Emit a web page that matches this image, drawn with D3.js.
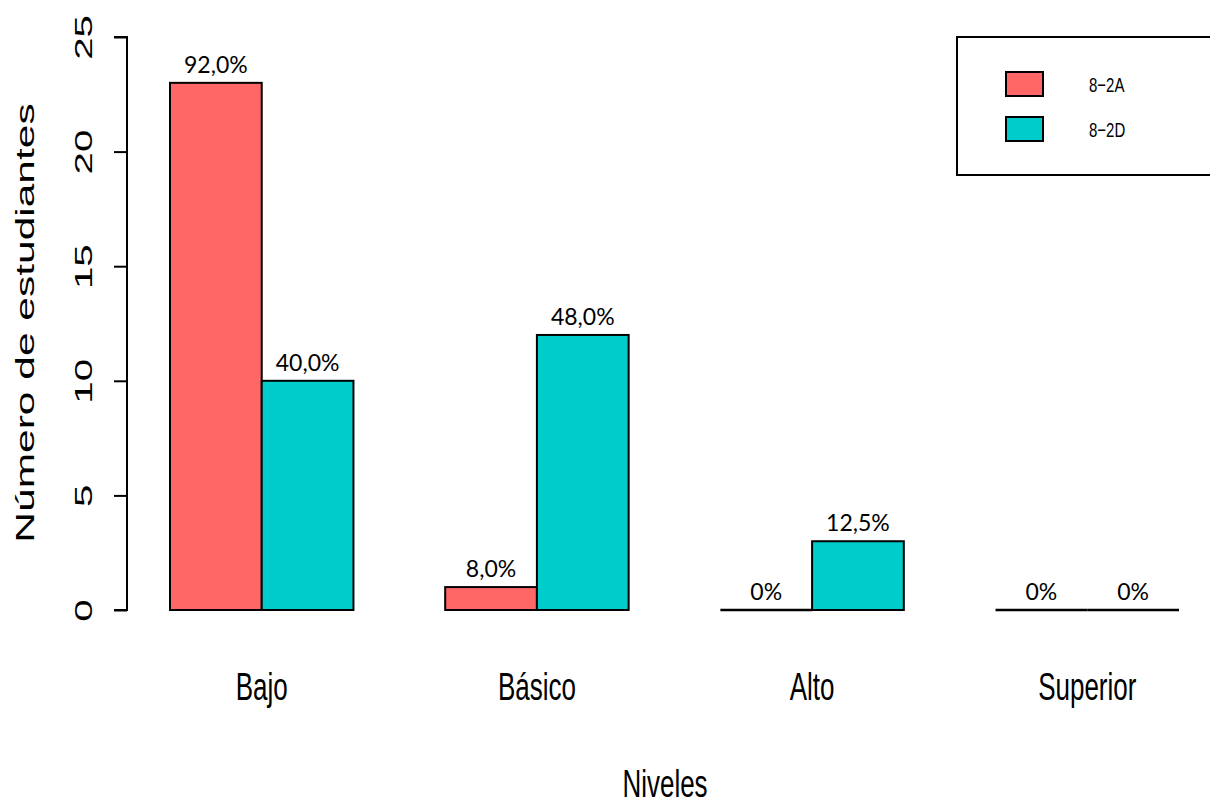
<!DOCTYPE html>
<html>
<head>
<meta charset="utf-8">
<script src="https://cdn.jsdelivr.net/npm/d3@7"></script>
<style>
  body { margin: 0; background: #fff; }
  svg { display: block; }
</style>
</head>
<body>
<div id="chart-area"></div>
<script>
// data
var niveles = ["Bajo", "Básico", "Alto", "Superior"];
var grupos = ["8-2A", "8-2D"];
var valores2A = [23, 1, 0, 0];
var valores2D = [10, 12, 3, 0];
var etiquetas2A = ["92,0%", "8,0%", "0%", "0%"];
var etiquetas2D = ["40,0%", "48,0%", "12,5%", "0%"];
var colores = ["#ff6666", "#00cccc"];
var yTicks = [0, 5, 10, 15, 20, 25];

var W = 1210, H = 805;
var rFont = "Liberation Sans, Arial, sans-serif";

var svg = d3.select("#chart-area")
    .append("svg")
    .attr("width", W)
    .attr("height", H);

var x = d3.scaleBand()
    .domain(niveles)
    .range([170, 1179])
    .paddingInner(1/3)
    .paddingOuter(0);

var xSub = d3.scaleBand()
    .domain(grupos)
    .range([0, x.bandwidth()]);

var y = d3.scaleLinear()
    .domain([0, 25])
    .range([610, 37]);

// Y axis
var yAxisCall = d3.axisLeft(y)
    .tickValues(yTicks)
    .tickSize(13)
    .tickFormat(d3.format("d"));

var yAxis = svg.append("g")
    .attr("transform", "translate(127,0)")
    .call(yAxisCall);
yAxis.select(".domain")
    .attr("stroke", "#000")
    .attr("stroke-width", 2)
    .attr("d", "M-13," + y(25) + "H0V" + y(0) + "H-13");
yAxis.selectAll(".tick line").attr("stroke", "#000").attr("stroke-width", 2);
yAxis.selectAll(".tick text")
    .attr("font-family", rFont)
    .attr("font-size", 23)
    .attr("fill", "#000")
    .attr("text-anchor", "middle")
    .attr("x", null)
    .attr("y", null)
    .attr("dy", null)
    .attr("transform", "translate(-35,0) scale(1,1.75) rotate(-90)");

// Y label
svg.append("text")
    .attr("transform", "translate(34,323) scale(1,1.7) rotate(-90)")
    .attr("text-anchor", "middle")
    .attr("font-family", rFont)
    .attr("font-size", 25)
    .text("Número de estudiantes");

// bars
var series = [valores2A, valores2D];
var labels = [etiquetas2A, etiquetas2D];
grupos.forEach(function(g, gi) {
    var data = niveles.map(function(n, i) {
        return { nivel: n, value: series[gi][i], label: labels[gi][i] };
    });
    svg.selectAll("rect.s" + gi)
        .data(data)
        .enter()
        .append("rect")
        .attr("class", "s" + gi)
        .attr("x", d => x(d.nivel) + xSub(g))
        .attr("y", d => y(d.value))
        .attr("width", xSub.bandwidth())
        .attr("height", d => y(0) - y(d.value))
        .attr("fill", colores[gi])
        .attr("stroke", "#000")
        .attr("stroke-width", 2);

    // zero-height bars show up as a flat line
    svg.selectAll("line.z" + gi)
        .data(data.filter(d => d.value === 0))
        .enter()
        .append("line")
        .attr("class", "z" + gi)
        .attr("x1", d => x(d.nivel) + xSub(g))
        .attr("x2", d => x(d.nivel) + xSub(g) + xSub.bandwidth())
        .attr("y1", y(0))
        .attr("y2", y(0))
        .attr("stroke", "#000")
        .attr("stroke-width", 2.5);

    svg.selectAll("text.l" + gi)
        .data(data)
        .enter()
        .append("text")
        .attr("class", "l" + gi)
        .attr("x", d => x(d.nivel) + xSub(g) + xSub.bandwidth() / 2)
        .attr("y", d => y(d.value) - 10)
        .attr("text-anchor", "middle")
        .attr("font-family", "Lato, Carlito, Calibri, sans-serif")
        .attr("font-size", 23)
        .text(d => d.label);
});

// category labels
svg.selectAll("text.cat")
    .data(niveles)
    .enter()
    .append("text")
    .attr("class", "cat")
    .attr("transform", d => "translate(" + (x(d) + x.bandwidth() / 2) + ",700) scale(1,1.5)")
    .attr("text-anchor", "middle")
    .attr("font-family", rFont)
    .attr("font-size", 26)
    .text(d => d);

// X label
svg.append("text")
    .attr("transform", "translate(665,797) scale(1,1.5)")
    .attr("text-anchor", "middle")
    .attr("font-family", rFont)
    .attr("font-size", 26)
    .text("Niveles");

// legend
var legend = svg.append("g");
legend.append("rect")
    .attr("x", 957)
    .attr("y", 37)
    .attr("width", 270)
    .attr("height", 138)
    .attr("fill", "#fff")
    .attr("stroke", "#000")
    .attr("stroke-width", 2);
grupos.forEach(function(g, gi) {
    legend.append("rect")
        .attr("x", 1006)
        .attr("y", 72 + gi * 45)
        .attr("width", 37)
        .attr("height", 24)
        .attr("fill", colores[gi])
        .attr("stroke", "#000")
        .attr("stroke-width", 2);
    legend.append("text")
        .attr("transform", "translate(1089," + (92 + gi * 45) + ") scale(1,1.4)")
        .attr("font-family", rFont)
        .attr("font-size", 15)
        .text(g.replace("-", "\u2212"));
});
</script>
</body>
</html>
